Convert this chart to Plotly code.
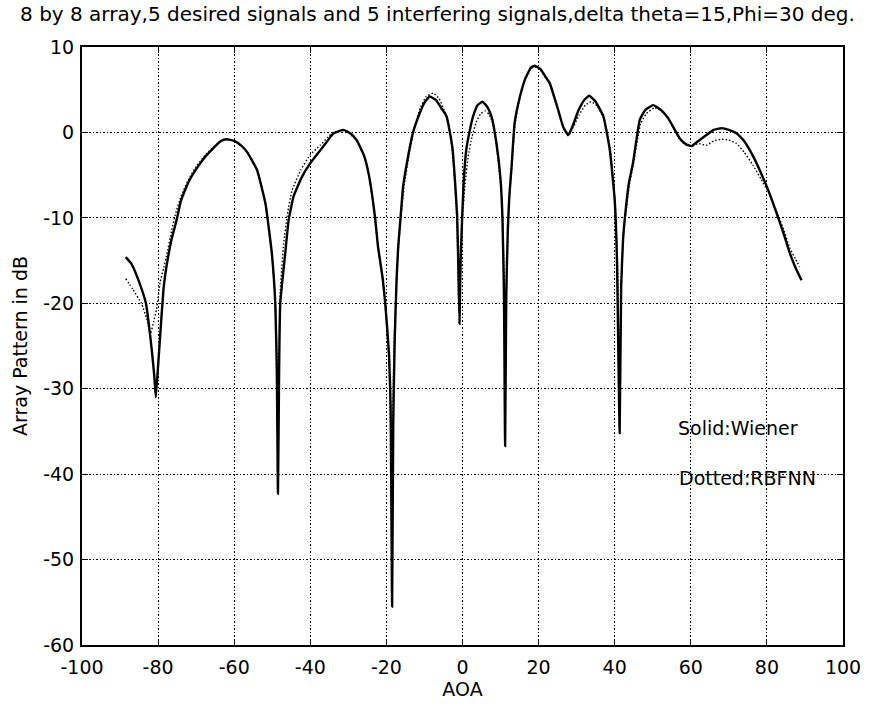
import plotly.graph_objects as go

# Wiener (solid) pattern: AOA (deg), dB
wiener_x = [-88.5, -87, -85, -83.2, -81.7, -81, -80.6, -80, -79.1, -78.5, -77.8, -76.5, -75, -74, -72, -70,
            -67.5, -65.4, -63.5, -62, -60, -58, -56.6, -54, -51.8, -50.1, -49.2, -48.8, -48.5, -48.2, -47.9,
            -46.6, -45.7, -44.4, -42.2, -40, -37.4, -35.5, -33.9, -31.3, -29.5, -27.8, -25.8, -24.6, -23, -22.2,
            -21, -20.3, -19.3, -18.9, -18.5, -18.2, -17.8, -17.3, -16.9, -16.2, -15.6, -14.5, -13, -11.2, -10,
            -8.6, -7, -5.5, -4.2, -3.3, -2.6, -2.0, -1.4, -1.1, -0.8, -0.5, 0, 0.3, 1, 1.8, 2.8, 4, 5.2, 6.5,
            7.6, 8.9, 10, 10.5, 10.9, 11.2, 11.5, 11.9, 12.3, 12.9, 13.7, 15.1, 16.5, 18, 19, 20.5, 22, 22.9,
            25.1, 26.5, 27.8, 29, 30.4, 32, 33.3, 35, 37, 38.7, 40, 40.6, 41.3, 41.7, 42.2, 42.7, 43.7, 44.8,
            46.6, 48, 50.1, 52, 54, 57.1, 58.8, 60.2, 62, 64.1, 66, 68.1, 70, 72, 74, 76.4, 78.5, 80.3, 82.9,
            84.5, 86, 87.5, 89.1]
wiener_db = [-14.6, -15.4, -17.5, -20.0, -25.3, -28.5, -31.0, -27.3, -21.5, -18.0, -15.7, -12.6, -10.0, -8.0, -5.8,
             -4.3, -2.8, -1.8, -1.0, -0.8, -1.0, -1.6, -2.3, -4.4, -8.3, -14.2, -20.0, -28.0, -42.3, -28.0, -20.0,
             -14.2, -10.3, -7.5, -5.2, -3.6, -2.1, -1.0, -0.1, 0.3, -0.1, -0.9, -2.8, -5.0, -9.9, -13.4,
             -17.0, -20.0, -26.0, -32.0, -55.5, -34.0, -24.0, -17.0, -13.4, -9.5, -6.3, -3.3, 0.0, 2.3, 3.5,
             4.2, 3.8, 2.8, 1.9, 0.0, -2.0, -5.5, -9.8, -15.5, -22.4, -15.0, -9.0, -5.9, -2.0, 0.0, 1.9, 3.2, 3.6, 3.0,
             1.9, -1.2, -5.5, -10.0, -19.0, -36.7, -19.0, -11.5, -7.5, -4.0, 1.1, 4.2, 6.3, 7.6, 7.8, 7.4, 6.4, 5.8,
             2.7, 0.6, -0.3, 0.8, 2.5, 3.8, 4.3, 3.6, 1.9, -2.0, -7.9, -15.0, -35.2, -18.0, -12.5, -9.9, -6.0, -3.6,
             1.5, 2.6, 3.2, 2.7, 1.7, -0.7, -1.4, -1.6, -1.0, -0.3, 0.3, 0.5, 0.3, -0.1, -1.0, -2.8, -4.8, -6.7, -9.9,
             -12.0, -14.1, -15.8, -17.3]

# RBFNN (dotted) pattern: AOA (deg), dB
rbfnn_x = [-88.5, -86.6, -84.4, -83, -82, -81.2, -80.4, -79.5, -78.5, -77.8, -76.5, -75.4, -74, -72, -70,
           -67.5, -65.4, -63.5, -62, -60, -58, -56.6, -54, -51.8, -50.1, -49.2, -48.8, -48.5, -48.2, -47.9,
           -47, -46, -44.8, -42.5, -40, -37.4, -35.5, -33.9, -31.3, -29.5, -27.8, -25.8, -24.6, -23, -22.2,
           -21, -20.3, -19.3, -18.6, -18.0, -17.3, -16.9, -16.2, -15.4, -14.2, -12.7, -11, -9.5,
           -7.7, -6.2, -4.8, -3.8, -3.0, -2.3, -1.6, -1.2, -0.9, -0.5, 0, 0.7, 1.5, 2.5, 3.6, 4.8, 5.9, 7.0,
           8.0, 9.1, 10.1, 10.6, 11.0, 11.3, 11.6, 12.0, 12.4, 13.0, 13.8, 15.1, 16.5, 18, 19, 20.5, 22, 22.9,
           25.1, 26.5, 27.8, 29, 30.6, 32.3, 33.8, 35.4, 37.3, 38.9, 40.1, 40.7, 41.3, 41.8, 42.3, 42.9, 43.9, 45.0,
           46.8, 48.3, 50.5, 52.3, 54.2, 57.1, 58.8, 60.2, 62, 64.1, 66, 68.0, 70, 72, 74, 76.3, 78.5, 80.3, 82.9,
           84.5, 86, 87.5, 88.6]
rbfnn_db = [-17.1, -18.4, -20.0, -21.8, -23.6, -22.2, -20.7, -17.6, -15.8, -14.5, -11.6, -9.5, -7.5, -5.5,
            -4.0, -2.6, -1.7, -1.0, -0.8, -1.0, -1.6, -2.3, -4.4, -8.3, -14.2, -20.0, -26.0, -34.0, -26.0, -18.5,
            -13.0, -9.5, -6.8, -4.4, -2.6, -1.5, -0.6, 0.0, 0.2, -0.2, -1.0, -2.9, -5.1, -10.0, -13.6,
            -17.2, -20.3, -27.0, -40.0, -25.0, -17.0, -14.0, -10.0, -6.5, -3.0, 0.5, 3.0, 4.2,
            4.6, 4.0, 2.6, 1.2, -0.8, -4.2, -9.0, -15.0, -21.0, -15.0, -10.0, -6.0, -2.8, -0.5, 1.2, 2.2, 2.5, 2.1,
            1.0, -2.2, -6.5, -11.0, -18.0, -30.0, -18.0, -11.0, -7.2, -3.8, 1.0, 4.1, 6.2, 7.5, 7.7, 7.3, 6.3, 5.7,
            2.6, 0.5, -0.4, 0.5, 2.0, 3.2, 3.6, 3.1, 1.5, -2.2, -8.2, -14.5, -28.0, -17.0, -12.0, -9.5, -6.0, -3.5,
            1.0, 2.2, 2.9, 2.5, 1.5, -0.8, -1.5, -1.6, -1.3, -1.5, -1.0, -0.8, -0.9, -1.3, -2.3, -3.8, -5.5, -6.9, -9.6,
            -11.5, -13.5, -14.8, -15.7]

x_ticks = [-100, -80, -60, -40, -20, 0, 20, 40, 60, 80, 100]
x_tick_text = ["-100", "-80", "-60", "-40", "-20", "0", "20", "40", "60", "80", "100"]
y_ticks = [-60, -50, -40, -30, -20, -10, 0, 10]
y_tick_text = ["-60", "-50", "-40", "-30", "-20", "-10", "0", "10"]

title_text = "8 by 8 array,5 desired signals and 5 interfering signals,delta theta=15,Phi=30 deg."
label_solid = "Solid:Wiener"
label_dotted = "Dotted:RBFNN"

FONT = "DejaVu Sans, Liberation Sans, Arial, sans-serif"
FS = 19

fig = go.Figure()
fig.add_trace(go.Scatter(x=rbfnn_x, y=rbfnn_db, mode="lines", name="RBFNN",
                         line=dict(color="black", width=1.4, dash="1.5px,2px", shape="spline", smoothing=0.4)))
fig.add_trace(go.Scatter(x=wiener_x, y=wiener_db, mode="lines", name="Wiener",
                         line=dict(color="black", width=2.4, shape="spline", smoothing=0.4)))

fig.add_annotation(x=56.0, y=-34.6, text=label_solid, showarrow=False, xanchor="left", yanchor="middle",
                   font=dict(family=FONT, size=FS, color="black"))
fig.add_annotation(x=56.3, y=-40.5, text=label_dotted, showarrow=False, xanchor="left", yanchor="middle",
                   font=dict(family=FONT, size=FS, color="black"))

axis_common = dict(showline=True, linecolor="black", linewidth=2, mirror="ticks",
                   ticks="inside", ticklen=6, tickcolor="black", tickwidth=1,
                   showgrid=True, gridcolor="black", gridwidth=1, griddash="1.5px,2px",
                   zeroline=False, tickfont=dict(family=FONT, size=FS, color="black"))

fig.update_xaxes(range=[-100, 100], tickvals=x_ticks, ticktext=x_tick_text, ticklabelstandoff=4,
                 title=dict(text="AOA", font=dict(family=FONT, size=FS, color="black"), standoff=4),
                 **axis_common)
fig.update_yaxes(range=[-60, 10], tickvals=y_ticks, ticktext=y_tick_text, ticklabelstandoff=2,
                 title=dict(text="Array Pattern in dB", font=dict(family=FONT, size=FS, color="black"), standoff=11),
                 **axis_common)

fig.update_layout(
    width=875, height=709,
    margin=dict(l=82, r=32, t=47, b=64),
    paper_bgcolor="white", plot_bgcolor="white",
    showlegend=False,
    title=dict(text=title_text, x=0.5, xanchor="center", xref="container",
               y=1 - 13.5 / 709, yanchor="middle", yref="container",
               font=dict(family=FONT, size=20, color="black")),
)

fig.write_html("out.html")
